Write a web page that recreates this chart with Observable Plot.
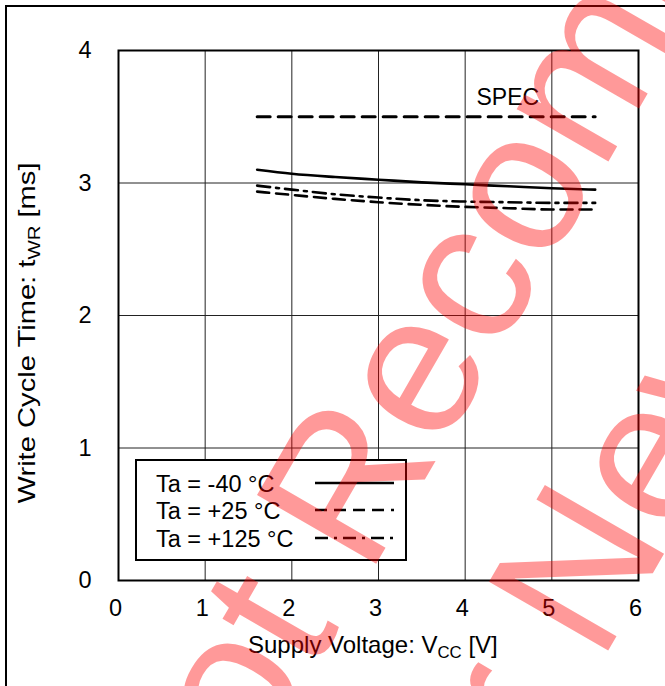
<!DOCTYPE html>
<html><head><meta charset="utf-8">
<script src="https://cdn.jsdelivr.net/npm/d3@7"></script>
<script src="https://cdn.jsdelivr.net/npm/@observablehq/plot@0.6"></script>
<style>
html,body{margin:0;padding:0;background:#fff;overflow:hidden;}
#wrap{position:relative;width:665px;height:686px;overflow:hidden;font-family:"Liberation Sans",Arial,sans-serif;}
#border{position:absolute;left:5px;top:5px;width:800px;height:800px;border-left:2px solid #000;border-top:2px solid #000;}
.ov{position:absolute;left:0;top:0;}
</style></head><body><div id="wrap"><div id="border"></div></div>
<script>
// ---- data ----
const vcc = [1.6, 2.0, 2.5, 3.0, 3.5, 4.0, 4.5, 5.0, 5.5];
const tM40 = [3.10, 3.07, 3.045, 3.025, 3.005, 2.99, 2.975, 2.96, 2.95];
const t25 = [2.935, 2.91, 2.88, 2.855, 2.835, 2.82, 2.81, 2.80, 2.80];
const t125 = [2.98, 2.95, 2.915, 2.89, 2.87, 2.86, 2.855, 2.85, 2.85];
const seriesNames = ["Ta = -40 °C", "Ta = +25 °C", "Ta = +125 °C"];
const specVcc = [1.6, 5.5];
const specValue = 3.5;
const specText = "SPEC";
const xTicks = [0, 1, 2, 3, 4, 5, 6];
const yTicks = [0, 1, 2, 3, 4];
const watermark = ["Not Recommended", "for New Designs"];

// ---- build ----
const seriesValues = [tM40, t25, t125];
const rows = [];
seriesNames.forEach((s, k) => vcc.forEach((v, i) => rows.push({vcc: v, t: seriesValues[k][i], s})));
const dashes = ["none", "12,7", "13,6,3,6"];
const specRows = specVcc.map(v => ({vcc: v, t: specValue}));
const FONT = "'Liberation Sans', Arial, sans-serif";

const chart = Plot.plot({
  width: 665, height: 686,
  marginLeft: 118, marginRight: 27, marginTop: 50, marginBottom: 106,
  style: {fontFamily: FONT, fontSize: "23px", background: "transparent", color: "#000"},
  x: {domain: [0, 6]},
  y: {domain: [0, 4]},
  marks: [
    Plot.ruleX(xTicks, {stroke: "#222", strokeWidth: 1}),
    Plot.ruleY(yTicks, {stroke: "#222", strokeWidth: 1}),
    Plot.frame({stroke: "#000", strokeWidth: 2}),
    Plot.axisX({ticks: xTicks, tickFormat: d3.format("d"), tickSize: 0, tickPadding: 19, dx: -3, fontSize: 23.5, label: null}),
    Plot.axisY({ticks: yTicks, tickFormat: d3.format("d"), tickSize: 0, tickPadding: 27, fontSize: 23.5, label: null}),
    Plot.line(specRows, {x: "vcc", y: "t", stroke: "#000", strokeWidth: 3, strokeDasharray: "13,8"}),
    Plot.text([specText], {x: specVcc[1], y: specValue, text: d => d, textAnchor: "end", dx: -56, dy: -19, fontSize: 23, fill: "#000"}),
    ...seriesNames.map((s, k) => Plot.line(rows.filter(d => d.s === s), {
      x: "vcc", y: "t", stroke: "#000", strokeWidth: 2.6, strokeDasharray: dashes[k], curve: "monotone-x"
    }))
  ]
});
chart.classList.add("ov");
const wrap = document.getElementById("wrap");
wrap.appendChild(chart);

const NS = "http://www.w3.org/2000/svg";
function svgEl(tag, attrs, parent) {
  const e = document.createElementNS(NS, tag);
  for (const k in attrs) e.setAttribute(k, attrs[k]);
  if (parent) parent.appendChild(e);
  return e;
}

// legend
const leg = svgEl("svg", {width: 272, height: 102, class: "ov", style: "left:135px;top:459px;"});
svgEl("rect", {x: 1, y: 1, width: 270, height: 100, fill: "#fff", stroke: "#000", "stroke-width": 2}, leg);
const rowY = [24, 51, 79];
seriesNames.forEach((s, k) => {
  const t = svgEl("text", {x: 21, y: rowY[k] + 8.5, "font-size": 23.5, "font-family": FONT, fill: "#000"}, leg);
  t.textContent = s;
  svgEl("line", {x1: 180, x2: 259, y1: rowY[k], y2: rowY[k], stroke: "#000", "stroke-width": 2.6,
    "stroke-dasharray": dashes[k]}, leg);
});
wrap.appendChild(leg);

// axis titles with subscripts
const ov = svgEl("svg", {width: 665, height: 686, class: "ov"});
function label(x, y, rot, sx, parts, anchor, fs) {
  const t = svgEl("text", {x: 0, y: 0, "font-size": fs, "font-family": FONT, fill: "#000", "text-anchor": anchor,
    transform: `translate(${x},${y}) rotate(${rot}) scale(${sx},1)`}, ov);
  parts.forEach(([txt, sub], i) => {
    let dy = 0;
    if (sub) dy = 5; else if (i > 0 && parts[i - 1][1]) dy = -5;
    const sp = svgEl("tspan", {"font-size": sub ? fs * 0.7 : fs, dy}, t);
    sp.textContent = txt;
  });
  return t;
}
label(248, 653, 0, 1, [["Supply Voltage: V", 0], ["CC", 1], [" [V]", 0]], "start", 24);
label(35, 333, -90, 1.24, [["Write Cycle Time: t", 0], ["WR", 1], [" [ms]", 0]], "middle", 23.5);
wrap.appendChild(ov);

// watermark (decoration, drawn on top, semi-transparent red)
const wm = svgEl("svg", {width: 665, height: 686, class: "ov"});
const ang = -60;
const wmStart = [[184.6, 895.6], [455.5, 915]];
watermark.forEach((w, i) => {
  const [px, py] = wmStart[i];
  const t = svgEl("text", {x: px, y: py, "font-size": 200, "font-family": FONT, fill: "rgba(255,0,0,0.4)",
    "text-anchor": "start", transform: `rotate(${ang},${px},${py})`}, wm);
  t.textContent = w;
});
wrap.appendChild(wm);
</script></body></html>
